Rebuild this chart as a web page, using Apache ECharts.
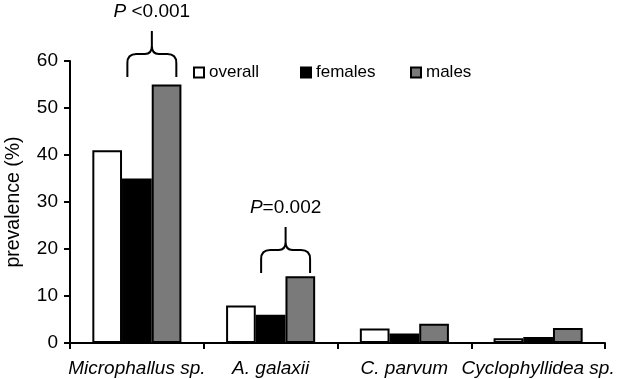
<!DOCTYPE html>
<html>
<head>
<meta charset="utf-8">
<script src="https://cdn.jsdelivr.net/npm/echarts@6/dist/echarts.min.js"></script>
<style>
  html, body { margin: 0; padding: 0; background: #fff; }
  #chart { width: 617px; height: 379px; }
</style>
</head>
<body>
<div id="chart"></div>
<script>
// 寄生虫 prevalence 数据
var categories = ['Microphallus sp.', 'A. galaxii', 'C. parvum', 'Cyclophyllidea sp.'];
var seriesNames = ['overall', 'females', 'males'];
var overall = [41, 8, 3.1, 1];
var females = [35, 6, 2, 1.3];
var males = [55, 14.2, 4.1, 3.2];
var yTicks = [0, 10, 20, 30, 40, 50, 60];

// 显著性括号: 类目下标, 括号底部所在的值, 文字
var braceCats = [0, 1];
var braceBase = [56.6, 14.9];
var braceText = ['<0.001', '=0.002'];
var braceGap = [' ', ''];

var font = "'Liberation Sans', Arial, sans-serif";

function bracePath(cx, by, hw) {
  // 横向的花括号, 尖朝上
  var h = 46, mid = by - 23;
  return 'M' + (cx - hw) + ' ' + by +
    ' L' + (cx - hw) + ' ' + (mid + 9) +
    ' Q' + (cx - hw) + ' ' + mid + ' ' + (cx - hw + 9) + ' ' + mid +
    ' L' + (cx - 7) + ' ' + mid +
    ' Q' + cx + ' ' + mid + ' ' + cx + ' ' + (mid - 8) +
    ' L' + cx + ' ' + (by - h) +
    ' M' + (cx + hw) + ' ' + by +
    ' L' + (cx + hw) + ' ' + (mid + 9) +
    ' Q' + (cx + hw) + ' ' + mid + ' ' + (cx + hw - 9) + ' ' + mid +
    ' L' + (cx + 7) + ' ' + mid +
    ' Q' + cx + ' ' + mid + ' ' + cx + ' ' + (mid - 8);
}

var chart = echarts.init(document.getElementById('chart'));

var barBase = {
  type: 'bar',
  barGap: '0%',
  barCategoryGap: '33.4%'
};

// 三个图例分开放, 位置和原图对齐
var legendLeft = [193, 300, 410];
var legends = seriesNames.map(function (n, i) {
  return {
    data: [n],
    left: legendLeft[i],
    top: 64,
    padding: 0,
    icon: 'rect',
    itemWidth: 10,
    itemHeight: 10,
    textStyle: { fontSize: 17, color: '#000', fontFamily: font }
  };
});

var options = {
  animation: false,
  backgroundColor: '#fff',
  textStyle: { fontFamily: font, color: '#000' },
  grid: { left: 70, right: 12, top: 61, bottom: 36, outerBoundsMode: 'none', containLabel: false },
  legend: legends,
  xAxis: {
    type: 'category',
    data: categories,
    axisLine: { lineStyle: { color: '#000', width: 2 } },
    axisTick: { show: true, length: 6, lineStyle: { color: '#000', width: 2 } },
    axisLabel: {
      interval: 0,
      margin: 16,
      color: '#000',
      fontSize: 19,
      fontStyle: 'italic',
      fontFamily: font
    }
  },
  yAxis: {
    type: 'value',
    min: yTicks[0],
    max: yTicks[yTicks.length - 1],
    interval: 10,
    name: 'prevalence (%)',
    nameLocation: 'middle',
    nameGap: 46,
    nameTextStyle: { fontSize: 19.5, color: '#000', fontFamily: font },
    splitLine: { show: false },
    axisLine: { show: true, lineStyle: { color: '#000', width: 2 } },
    axisTick: { show: true, length: 6, lineStyle: { color: '#000', width: 2 } },
    axisLabel: { color: '#000', fontSize: 19, margin: 12, fontFamily: font }
  },
  series: [
    Object.assign({}, barBase, { name: 'overall', data: overall,
      itemStyle: { color: '#fff', borderColor: '#000', borderWidth: 2 } }),
    Object.assign({}, barBase, { name: 'females', data: females,
      itemStyle: { color: '#000', borderColor: '#000', borderWidth: 2 } }),
    Object.assign({}, barBase, { name: 'males', data: males,
      itemStyle: { color: '#7a7a7a', borderColor: '#000', borderWidth: 2 } }),
    {
      type: 'custom',
      name: 'brace',
      silent: true,
      clip: false,
      z: 5,
      data: braceCats.map(function (c, i) { return [c, braceBase[i], i]; }),
      renderItem: function (params, api) {
        var p = api.coord([api.value(0), api.value(1)]);
        var w = api.size([1, 0])[0];
        var idx = api.value(2);
        var cx = p[0] + w * 0.112;
        var hw = w * 0.183;
        return {
          type: 'group',
          children: [
            {
              type: 'path',
              shape: { pathData: bracePath(cx, p[1], hw) },
              style: { stroke: '#000', lineWidth: 2, fill: null }
            },
            {
              type: 'text',
              style: {
                x: cx,
                y: p[1] - 65,
                text: '{i|P}' + braceGap[idx] + braceText[idx],
                align: 'center',
                verticalAlign: 'middle',
                fontSize: 19,
                fontFamily: font,
                fill: '#000',
                rich: { i: { fontStyle: 'italic', fontSize: 19, fontFamily: font } }
              }
            }
          ]
        };
      }
    }
  ]
};

chart.setOption(options);
</script>
</body>
</html>
